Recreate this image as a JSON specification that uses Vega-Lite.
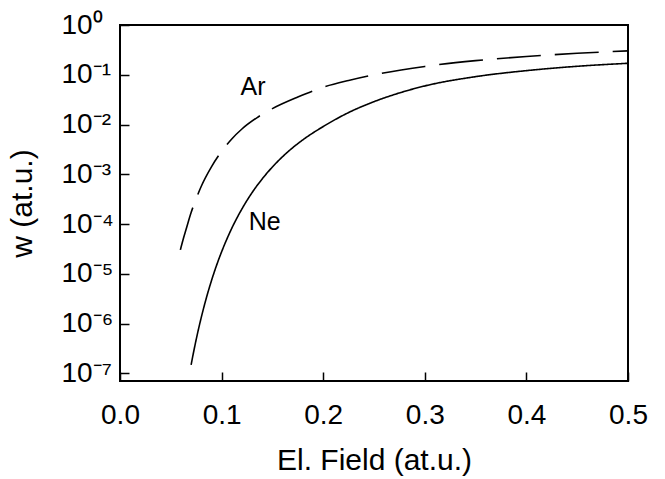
{
  "$schema": "https://vega.github.io/schema/vega-lite/v6.json",
  "width": 508,
  "height": 356,
  "autosize": "none",
  "padding": {"left": 120, "top": 25, "right": 37, "bottom": 98},
  "background": "white",
  "config": {
    "font": "Liberation Sans",
    "view": {"stroke": "black", "strokeWidth": 2},
    "axis": {
      "domain": false,
      "grid": false,
      "ticks": true,
      "zindex": 1,
      "tickColor": "black",
      "tickWidth": 1.5,
      "tickSize": -9,
      "labelColor": "black",
      "labelFontSize": 28,
      "titleColor": "black",
      "titleFontSize": 30,
      "titleFontWeight": "normal"
    }
  },
  "datasets": {
    "curves": [
      {"series": "Ne", "x": 0.070, "w": 1.48e-7},
      {"series": "Ne", "x": 0.072, "w": 2.41e-7},
      {"series": "Ne", "x": 0.075, "w": 4.79e-7},
      {"series": "Ne", "x": 0.080, "w": 1.33e-6},
      {"series": "Ne", "x": 0.085, "w": 3.27e-6},
      {"series": "Ne", "x": 0.090, "w": 7.23e-6},
      {"series": "Ne", "x": 0.095, "w": 1.47e-5},
      {"series": "Ne", "x": 0.100, "w": 2.76e-5},
      {"series": "Ne", "x": 0.110, "w": 8.20e-5},
      {"series": "Ne", "x": 0.120, "w": 2.01e-4},
      {"series": "Ne", "x": 0.130, "w": 4.28e-4},
      {"series": "Ne", "x": 0.140, "w": 8.09e-4},
      {"series": "Ne", "x": 0.150, "w": 1.40e-3},
      {"series": "Ne", "x": 0.165, "w": 2.80e-3},
      {"series": "Ne", "x": 0.180, "w": 4.93e-3},
      {"series": "Ne", "x": 0.200, "w": 9.10e-3},
      {"series": "Ne", "x": 0.225, "w": 1.74e-2},
      {"series": "Ne", "x": 0.250, "w": 2.88e-2},
      {"series": "Ne", "x": 0.275, "w": 4.31e-2},
      {"series": "Ne", "x": 0.300, "w": 5.96e-2},
      {"series": "Ne", "x": 0.350, "w": 9.16e-2},
      {"series": "Ne", "x": 0.400, "w": 0.121},
      {"series": "Ne", "x": 0.450, "w": 0.148},
      {"series": "Ne", "x": 0.500, "w": 0.170},
      {"series": "Ar", "x": 0.0594, "w": 3.02e-5},
      {"series": "Ar", "x": 0.062, "w": 4.78e-5},
      {"series": "Ar", "x": 0.065, "w": 7.73e-5},
      {"series": "Ar", "x": 0.070, "w": 1.70e-4},
      {"series": "Ar", "x": 0.075, "w": 3.24e-4},
      {"series": "Ar", "x": 0.080, "w": 5.75e-4},
      {"series": "Ar", "x": 0.090, "w": 1.41e-3},
      {"series": "Ar", "x": 0.100, "w": 2.88e-3},
      {"series": "Ar", "x": 0.110, "w": 5.13e-3},
      {"series": "Ar", "x": 0.120, "w": 8.13e-3},
      {"series": "Ar", "x": 0.135, "w": 1.38e-2},
      {"series": "Ar", "x": 0.150, "w": 2.09e-2},
      {"series": "Ar", "x": 0.175, "w": 3.57e-2},
      {"series": "Ar", "x": 0.200, "w": 5.62e-2},
      {"series": "Ar", "x": 0.225, "w": 7.69e-2},
      {"series": "Ar", "x": 0.250, "w": 9.99e-2},
      {"series": "Ar", "x": 0.300, "w": 0.147},
      {"series": "Ar", "x": 0.350, "w": 0.192},
      {"series": "Ar", "x": 0.400, "w": 0.233},
      {"series": "Ar", "x": 0.450, "w": 0.270},
      {"series": "Ar", "x": 0.500, "w": 0.302}
    ],
    "labels": [
      {"label": "Ar", "x": 0.131, "w": 0.0556},
      {"label": "Ne", "x": 0.1424, "w": 1.12e-4}
    ]
  },
  "encoding": {
    "x": {
      "field": "x",
      "type": "quantitative",
      "scale": {"domain": [0, 0.5], "nice": false, "zero": false},
      "axis": {
        "title": "El. Field (at.u.)",
        "values": [0, 0.1, 0.2, 0.3, 0.4, 0.5],
        "format": ".1f",
        "labelPadding": 29,
        "titlePadding": 16,
        "labelFlush": false
      }
    },
    "y": {
      "field": "w",
      "type": "quantitative",
      "scale": {"type": "log", "domain": [7e-8, 1], "nice": false},
      "axis": {
        "title": "w (at.u.)",
        "values": [1e-7, 1e-6, 1e-5, 1e-4, 1e-3, 1e-2, 1e-1, 1],
        "labelAlign": "left",
        "labelPadding": 68,
        "titlePadding": 24,
        "labelFlush": false,
        "labelExpr": "datum.value > 0.5 ? '10⁰' : datum.value > 0.05 ? '10⁻¹' : datum.value > 0.005 ? '10⁻²' : datum.value > 0.0005 ? '10⁻³' : datum.value > 0.00005 ? '10⁻⁴' : datum.value > 0.000005 ? '10⁻⁵' : datum.value > 0.0000005 ? '10⁻⁶' : '10⁻⁷'"
      }
    }
  },
  "layer": [
    {
      "data": {"name": "curves"},
      "mark": {"type": "line", "interpolate": "monotone", "color": "black", "strokeWidth": 1.6},
      "encoding": {
        "detail": {"field": "series", "type": "nominal"},
        "strokeDash": {
          "field": "series",
          "type": "nominal",
          "scale": {"domain": ["Ne", "Ar"], "range": [[1, 0], [44, 14]]},
          "legend": null
        }
      }
    },
    {
      "data": {"name": "labels"},
      "mark": {"type": "text", "fontSize": 25, "color": "black", "font": "Liberation Sans"},
      "encoding": {
        "text": {"field": "label", "type": "nominal"}
      }
    }
  ]
}
